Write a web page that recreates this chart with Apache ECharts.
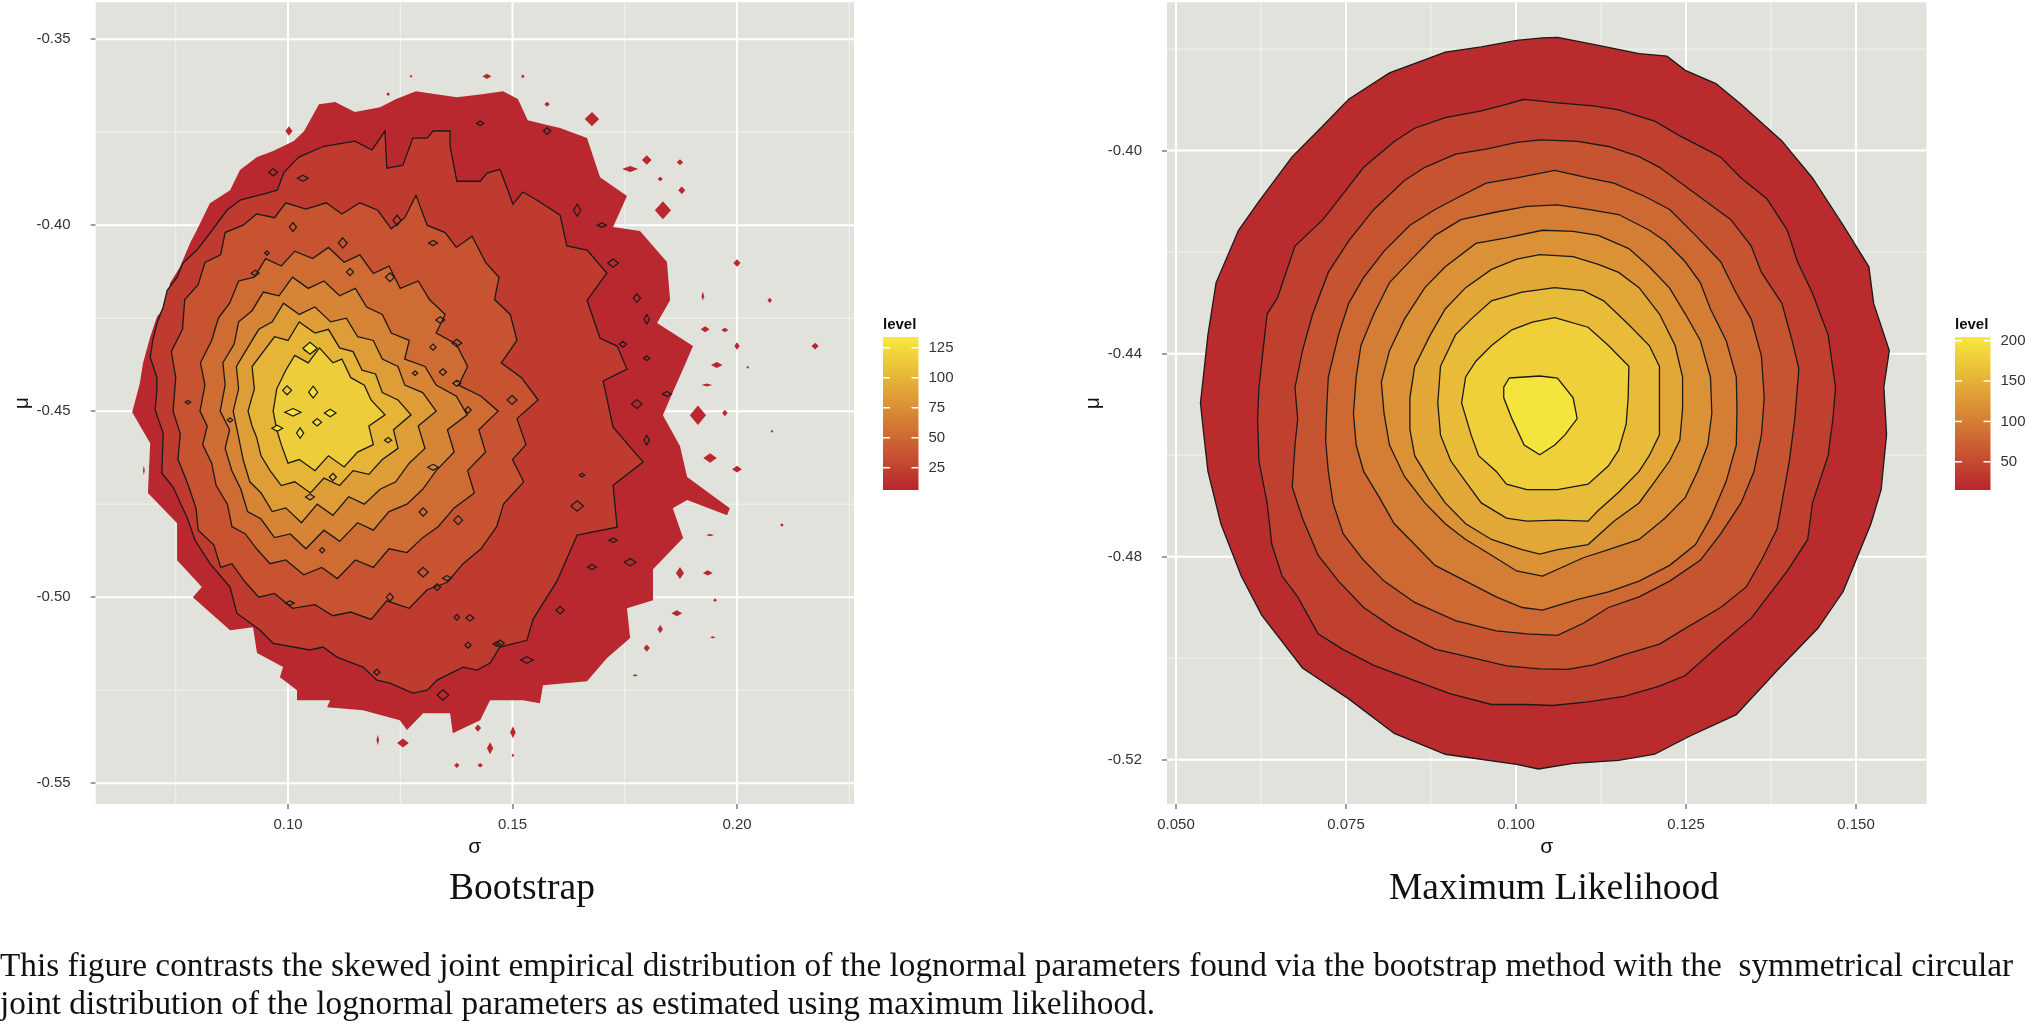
<!DOCTYPE html>
<html>
<head>
<meta charset="utf-8">
<script src="https://cdn.jsdelivr.net/npm/echarts@6/dist/echarts.min.js"></script>
<style>
html, body {margin: 0; background: #fff}
#chart {width: 2029px; height: 1025px}
</style>
</head>
<body>
<div id="chart"></div>
<script>
// all contour vertices are [sigma, mu] in thousandths

// --- Bootstrap panel ---
const bootOuter = [[96.7,-380.1],[101.3,-377.4],[103.6,-374.7],[106.9,-367.5],[110.5,-366.9],[114.9,-369.6],[120.5,-368.3],[124.1,-366.1],[128.5,-364.0],[133.0,-364.8],[137.6,-365.6],[143.2,-364.8],[147.9,-364.0],[151.2,-366.1],[153.4,-371.8],[156.1,-372.6],[160.6,-373.9],[166.6,-376.6],[169.5,-387.1],[175.5,-392.2],[172.4,-400.5],[178.4,-401.6],[184.4,-409.9],[185.1,-420.2],[182.2,-426.3],[190.2,-432.5],[188.0,-438.7],[185.7,-444.9],[183.5,-451.1],[187.3,-459.4],[188.9,-467.7],[198.4,-476.1],[197.8,-478.0],[188.9,-473.9],[185.7,-476.1],[188.0,-484.1],[181.3,-492.5],[181.3,-500.8],[175.5,-503.0],[176.2,-511.0],[171.0,-516.4],[166.6,-522.6],[156.8,-523.7],[156.1,-528.5],[152.3,-527.7],[145.0,-527.7],[142.8,-533.1],[136.7,-536.6],[136.1,-531.2],[130.1,-531.2],[126.5,-535.7],[124.9,-533.1],[116.7,-530.4],[108.7,-529.6],[109.4,-527.7],[102.0,-527.7],[102.0,-525.0],[98.2,-521.5],[98.9,-518.8],[93.1,-515.0],[92.2,-508.1],[87.1,-508.9],[78.8,-500.0],[80.8,-497.3],[75.3,-490.1],[75.3,-480.1],[68.8,-472.0],[69.3,-458.6],[65.3,-450.3],[67.0,-442.5],[67.7,-437.1],[69.3,-430.1],[70.8,-424.7],[73.1,-421.0],[73.7,-415.6],[75.9,-411.3],[78.2,-404.8],[79.7,-401.3],[82.6,-394.1],[87.1,-390.6],[89.3,-385.2],[93.1,-381.7]]

const bootLineA = [[97.6,-390.6],[99.1,-385.8],[102.4,-381.7],[108.0,-378.8],[114.9,-377.4],[118.7,-379.8],[121.6,-374.7],[122.0,-384.7],[125.6,-383.9],[127.8,-376.6],[131.0,-376.6],[132.3,-374.7],[136.1,-374.7],[136.1,-378.8],[137.6,-388.2],[142.8,-388.2],[144.3,-386.0],[147.2,-385.0],[148.8,-390.1],[150.1,-394.4],[152.3,-391.1],[155.5,-393.3],[160.6,-397.3],[162.1,-405.6],[166.6,-406.7],[171.0,-412.9],[166.6,-420.2],[169.5,-430.4],[173.3,-432.5],[175.5,-438.7],[170.2,-441.9],[172.4,-454.3],[179.1,-463.7],[172.4,-469.9],[173.3,-481.2],[164.4,-483.3],[159.9,-495.7],[154.6,-505.9],[153.2,-511.6],[147.2,-513.4],[145.0,-517.7],[142.1,-519.6],[139.0,-518.8],[133.2,-522.3],[131.0,-525.0],[127.8,-525.8],[122.7,-523.1],[119.8,-522.3],[116.7,-518.8],[110.9,-516.1],[107.8,-513.4],[104.9,-514.2],[96.7,-512.4],[93.8,-508.9],[88.6,-504.3],[87.1,-497.3],[82.6,-490.9],[79.3,-484.7],[77.5,-478.5],[74.4,-470.4],[71.9,-466.7],[72.2,-455.9],[70.4,-449.7],[70.8,-444.4],[70.8,-440.9],[69.3,-435.5],[69.9,-430.9],[70.8,-426.4],[72.2,-422.0],[73.1,-417.5],[75.3,-414.0],[76.6,-410.2],[79.7,-406.7],[82.6,-402.2],[86.4,-396.0],[89.3,-393.3],[95.3,-391.4]]

const bootLineB = [[74.4,-450],[75.0,-441],[74.0,-434],[76.5,-428],[77.0,-420],[80.0,-416],[81.5,-410],[85.0,-408],[86.0,-402],[90.0,-400],[93.0,-397],[97.0,-398],[99.5,-394],[104.0,-395.7],[108.5,-394],[112.0,-397],[116.0,-394],[120.0,-396],[123.0,-401],[126.0,-398],[128.5,-392],[131.0,-400],[135.0,-402],[137.5,-406],[141.0,-403],[144.0,-410],[147.0,-414],[146.0,-420],[149.5,-424],[151.0,-431],[147.5,-437],[152.0,-441],[155.7,-447],[151.0,-452],[153.0,-459],[150.0,-463],[152.5,-469],[148.0,-475],[146.5,-481],[143.0,-487],[139.0,-491],[135.5,-496],[131.0,-498],[127.0,-503],[122.0,-501],[118.5,-506],[114.0,-504],[110.0,-505],[106.0,-502],[101.0,-503],[97.0,-499],[93.5,-500],[90.5,-496],[87.5,-491],[85.0,-492],[83.5,-486],[80.0,-482],[79.5,-476],[77.5,-469],[75.5,-463],[76.0,-456]]

const bootLineC = [[80.4,-450],[81.5,-443],[80.5,-437],[83.0,-431],[84.5,-425],[87.0,-421],[89.0,-415],[92.5,-414],[95.0,-409],[98.5,-411],[101.5,-407],[105.5,-409],[109.0,-406],[112.5,-410],[116.0,-408],[119.0,-413],[122.5,-411],[125.0,-417],[129.0,-415],[131.5,-420],[135.0,-424],[133.0,-429],[137.5,-432],[140.0,-438],[138.0,-443],[143.0,-446],[146.8,-450],[142.5,-455],[144.0,-461],[140.0,-466],[141.5,-472],[137.0,-476],[133.5,-481],[130.0,-484],[126.5,-488],[122.5,-487],[119.0,-492],[115.0,-490],[111.0,-495],[107.5,-492],[103.5,-494],[99.5,-490],[96.0,-491],[93.0,-487],[90.5,-483],[87.5,-481],[86.5,-475],[84.0,-470],[83.0,-464],[81.0,-459],[82.0,-454]]

const bootLineD = [[84.9,-450],[86.0,-443],[85.5,-437],[88.0,-432],[89.0,-426],[92.0,-423],[94.5,-418],[98.0,-419],[101.0,-414],[104.5,-417],[108.0,-415],[111.5,-419],[115.0,-417],[117.5,-422],[121.0,-424],[123.0,-429],[127.0,-431],[126.0,-436],[130.5,-438],[133.0,-443],[137.5,-446],[139.9,-451],[135.5,-455],[137.0,-461],[133.0,-466],[130.0,-471],[126.5,-475],[122.5,-477],[119.0,-482],[115.5,-480],[111.5,-485],[108.0,-482],[104.0,-487],[100.5,-483],[97.0,-484],[94.0,-479],[91.0,-477],[89.5,-471],[87.5,-466],[86.0,-460],[87.0,-455]]

const bootLineE = [[87.8,-450],[89.0,-444],[88.5,-438],[91.0,-433],[93.5,-428],[96.5,-426],[99.0,-421],[102.5,-424],[106.0,-422],[109.5,-426],[113.0,-425],[115.5,-430],[119.0,-431],[121.0,-436],[124.5,-438],[126.0,-443],[130.0,-445],[133.0,-450],[129.0,-454],[130.5,-460],[127.0,-464],[124.0,-469],[120.5,-471],[117.0,-475],[113.5,-473],[110.0,-478],[106.5,-475],[103.0,-480],[99.5,-476],[96.5,-477],[94.0,-472],[91.5,-469],[90.0,-463],[89.0,-457]]

const bootLineF = [[91.1,-450],[92.5,-444],[92.0,-438],[94.5,-434],[97.0,-430],[100.0,-431],[102.5,-426],[106.0,-429],[109.0,-428],[111.5,-433],[114.5,-434],[116.5,-439],[119.5,-440],[121.0,-445],[124.5,-447],[127.4,-451],[123.5,-455],[124.5,-460],[121.0,-463],[118.0,-467],[114.5,-466],[111.5,-470],[108.0,-468],[105.0,-472],[101.5,-469],[98.5,-470],[96.0,-466],[94.0,-462],[93.0,-457],[92.0,-454]]

const bootLineG = [[96.7,-450],[97.5,-444],[99.5,-439],[101.5,-435],[104.5,-437],[107.0,-433],[110.0,-437],[112.0,-436],[114.0,-441],[117.0,-443],[118.5,-447],[121.6,-451],[118.0,-454],[119.0,-459],[115.5,-461],[112.5,-465],[109.0,-462],[106.0,-466],[102.5,-463],[100.0,-464],[98.5,-459],[97.5,-455]]

const bootLineLevels = [20, 36, 52, 68, 84, 100, 116]
const bootOuterLevel = 8

// small closed contours: [sigma, mu, half width, half height], thousandths
const bootIslands = [[167.7,-371.5,1.6,1.9],[157.7,-367.5,0.6,0.7],[179.9,-382.5,1.1,1.3],[176.2,-384.9,1.8,0.8],[187.3,-383.1,0.7,0.8],[182.9,-387.6,0.6,0.6],[187.7,-390.6,0.8,1.0],[183.5,-396.0,1.8,2.4],[200.0,-410.2,0.8,1.0],[192.4,-419.1,0.3,1.2],[207.3,-420.2,0.5,0.7],[192.9,-428.0,1.0,0.8],[197.3,-428.2,0.8,0.6],[200.0,-432.5,0.6,1.0],[217.4,-432.5,0.8,0.9],[195.5,-437.6,1.3,0.8],[202.4,-438.2,0.3,0.4],[193.3,-443.0,1.2,0.4],[191.3,-451.1,1.8,2.6],[197.3,-450.5,0.6,0.9],[207.8,-455.4,0.3,0.4],[194.0,-462.6,1.5,1.3],[200.0,-465.6,1.1,0.9],[210.0,-480.6,0.4,0.5],[194.0,-483.3,0.9,0.3],[187.3,-493.5,0.9,1.6],[193.5,-493.5,1.1,0.7],[195.1,-500.8,0.4,0.5],[186.6,-504.3,1.2,0.8],[182.9,-508.6,0.6,1.1],[194.6,-510.8,0.6,0.3],[179.9,-513.7,0.7,1.0],[177.3,-521.0,0.6,0.3],[144.3,-360.0,1.0,0.7],[152.3,-360.0,0.4,0.5],[127.4,-360.0,0.3,0.4],[122.3,-364.8,0.4,0.5],[100.2,-374.7,0.8,1.3],[67.9,-465.9,0.2,1.3],[120.0,-538.4,0.3,1.4],[125.6,-539.2,1.3,1.2],[142.3,-535.2,0.7,1.0],[145.0,-540.6,0.7,1.6],[150.1,-536.3,0.6,1.6],[137.6,-545.2,0.6,0.7],[142.8,-545.2,0.6,0.6],[150.1,-542.5,0.3,0.5]]

const bootLoops = [[96.7,-385.8,1.0,1.0],[103.3,-387.4,1.2,0.8],[101.1,-400.5,0.8,1.2],[95.3,-407.5,0.5,0.6],[92.7,-412.9,0.9,0.8],[112.2,-404.8,1.0,1.4],[113.8,-412.6,0.8,1.0],[122.7,-414.0,1.0,1.2],[124.3,-398.7,0.9,1.4],[132.3,-404.8,1.0,0.7],[104.9,-433.6,1.2,0.9],[99.8,-444.4,1.0,1.2],[87.1,-452.4,0.6,0.6],[77.7,-447.6,0.6,0.5],[133.9,-425.5,1.0,0.9],[137.6,-431.7,1.1,1.0],[132.3,-432.8,0.7,0.8],[134.5,-439.5,0.8,0.9],[128.3,-439.8,0.6,0.6],[137.6,-442.5,0.9,0.8],[149.9,-447.0,1.1,1.2],[140.1,-449.7,0.7,0.9],[122.3,-457.8,0.8,0.7],[132.3,-465.1,1.2,0.8],[104.9,-473.1,1.0,0.8],[130.1,-477.1,0.9,1.1],[137.9,-479.3,1.0,1.2],[107.6,-487.4,0.6,0.7],[110.0,-467.7,0.8,1.0],[100.4,-501.6,1.0,0.6],[122.7,-500.0,0.8,1.1],[130.1,-493.3,1.2,1.3],[135.4,-494.9,1.0,0.7],[133.2,-497.3,0.8,0.9],[137.6,-505.4,0.6,0.8],[140.5,-505.6,0.9,0.9],[147.2,-512.4,1.0,0.9],[140.1,-512.9,0.7,0.8],[134.5,-526.3,1.3,1.4],[119.8,-520.2,0.7,0.8],[142.8,-372.6,0.8,0.6],[157.7,-374.7,0.8,0.9],[164.4,-396.0,0.8,1.6],[169.9,-400.0,1.0,0.6],[172.4,-410.2,1.2,1.1],[177.7,-419.6,0.8,1.2],[179.9,-425.3,0.6,1.3],[174.6,-432.0,0.8,0.8],[179.9,-435.8,0.7,0.6],[184.4,-445.4,1.0,0.7],[177.7,-448.1,1.2,1.2],[179.9,-457.8,0.6,1.3],[165.5,-467.2,0.6,0.5],[164.4,-475.5,1.4,1.4],[172.4,-484.7,0.9,0.6],[176.2,-490.6,1.3,1.0],[167.7,-491.9,1.0,0.7],[160.6,-503.5,0.9,1.0],[146.5,-512.6,0.8,0.6],[153.2,-516.9,1.4,0.9]]

const bootBlobs = [[104.9,-433.1,1.6,1.6],[101.1,-450.3,1.8,1.0],[105.6,-444.9,1.0,1.6],[109.4,-450.5,1.3,1.0],[102.7,-455.9,0.8,1.4],[97.6,-454.6,1.2,0.8],[106.5,-453.0,1.0,1.0]]
const bootBlobLevel = 130

const bootRange = [6.4, 134]
const bootLegendTicks = [25, 50, 75, 100, 125]
const bootXTicks = [0.10, 0.15, 0.20]
const bootYTicks = [-0.55, -0.50, -0.45, -0.40, -0.35]
const bootXMinor = [0.075, 0.125, 0.175, 0.225]
const bootYMinor = [-0.525, -0.475, -0.425, -0.375]
const bootX = [0.05717, 0.22606]
const bootY = [-0.5556, -0.3401]

// --- Maximum likelihood panel ---
const mleLine1 = [[103.9,-377.8],[106.1,-377.7],[111.4,-379.1],[118.1,-380.9],[122.2,-381.4],[124.9,-384.2],[129.4,-386.8],[133.1,-390.9],[139.1,-398.1],[143.6,-405.4],[148.1,-414.7],[151.9,-422.9],[152.6,-430.1],[154.9,-439.4],[154.1,-446.6],[154.5,-455.9],[153.7,-466.8],[152.2,-473.5],[148.1,-486.9],[144.4,-494.1],[138.4,-502.4],[132.4,-511.1],[125.6,-515.3],[120.4,-518.9],[115.1,-520.1],[108.4,-520.7],[103.3,-521.8],[100.1,-520.9],[89.6,-518.9],[82.1,-514.8],[75.4,-508.0],[68.6,-501.9],[62.6,-491.5],[59.6,-483.8],[56.6,-473.5],[54.7,-463.2],[54.0,-454.9],[53.6,-449.7],[54.7,-436.3],[55.9,-426.0],[59.2,-415.7],[62.2,-410.0],[67.1,-401.2],[70.9,-396.1],[75.4,-389.9],[81.4,-384.7],[89.6,-380.6],[94.9,-379.6],[100.1,-378.3]]
const mleLine2 = [[101.2,-389.9],[106.1,-390.6],[111.4,-391.2],[115.1,-392.0],[120.4,-394.2],[124.1,-397.1],[128.6,-400.2],[130.1,-401.3],[133.1,-405.4],[136.9,-409.5],[139.9,-415.7],[141.4,-421.9],[143.6,-428.1],[145.9,-436.3],[147.0,-446.7],[146.6,-452.9],[145.9,-460.1],[143.6,-469.4],[142.9,-476.6],[139.9,-482.8],[134.6,-492.1],[130.1,-497.2],[124.9,-503.4],[121.1,-505.5],[115.9,-507.5],[110.6,-508.6],[105.4,-509.3],[101.6,-509.1],[96.4,-509.1],[90.4,-507.0],[85.1,-504.4],[79.1,-501.4],[74.6,-498.3],[70.9,-495.2],[67.9,-487.9],[65.6,-483.8],[64.1,-477.6],[63.4,-469.4],[62.2,-461.1],[62.0,-452.9],[62.2,-446.7],[63.4,-432.2],[64.9,-429.1],[67.5,-418.8],[71.6,-413.6],[74.6,-408.5],[77.6,-403.3],[82.1,-398.2],[85.1,-395.6],[89.6,-393.5],[94.9,-392.2],[98.6,-390.9]]
const mleLine3 = [[103.6,-397.9],[109.1,-398.2],[113.6,-399.2],[118.1,-401.2],[121.1,-403.3],[126.4,-408.5],[131.6,-413.6],[134.6,-418.8],[136.1,-424.0],[139.1,-430.1],[140.6,-437.4],[141.6,-443.0],[141.0,-452.9],[140.2,-461.1],[139.1,-469.4],[138.4,-474.5],[136.1,-480.7],[133.9,-485.9],[130.1,-490.0],[124.9,-494.1],[121.1,-497.2],[115.9,-499.3],[111.4,-501.3],[107.6,-502.2],[103.5,-502.1],[98.6,-501.5],[94.9,-500.3],[88.1,-498.2],[82.1,-494.1],[77.6,-490.0],[73.9,-484.8],[70.9,-479.7],[68.6,-472.4],[67.1,-466.3],[67.5,-458.0],[67.9,-452.9],[67.5,-446.7],[68.6,-439.4],[70.1,-432.2],[72.4,-424.0],[75.4,-417.8],[79.1,-411.6],[83.6,-405.9],[86.6,-403.3],[91.1,-400.7],[95.6,-399.7],[100.1,-398.4]]
const mleLine4 = [[105.7,-403.9],[110.6,-405.4],[114.4,-406.4],[118.9,-409.0],[122.6,-411.6],[126.4,-416.7],[130.1,-421.9],[132.4,-428.1],[134.6,-433.2],[136.1,-440.5],[136.5,-448.7],[136.1,-456.0],[135.0,-463.2],[133.1,-469.4],[130.1,-475.5],[127.1,-480.7],[122.6,-484.8],[118.1,-487.9],[113.6,-490.0],[109.9,-493.1],[106.1,-495.5],[101.6,-495.2],[97.1,-494.6],[91.1,-492.6],[85.1,-489.0],[80.6,-484.8],[77.6,-480.7],[74.6,-475.5],[73.1,-469.4],[72.4,-463.2],[72.0,-457.0],[72.2,-449.8],[72.4,-444.6],[73.9,-436.3],[75.4,-430.1],[77.6,-425.0],[80.6,-419.8],[84.4,-414.7],[88.1,-411.6],[91.1,-409.5],[95.6,-406.4],[100.1,-405.4]]
const mleLine5 = [[106.1,-410.7],[110.6,-411.6],[115.1,-412.6],[119.6,-415.7],[121.9,-417.8],[124.9,-421.9],[127.1,-426.0],[128.6,-431.2],[130.9,-437.4],[132.4,-444.6],[132.5,-450.8],[132.4,-458.0],[130.9,-465.2],[128.6,-472.4],[126.4,-477.6],[122.6,-481.7],[118.1,-484.8],[113.6,-486.9],[109.1,-488.4],[103.9,-490.5],[100.9,-490.0],[97.1,-487.9],[92.6,-484.8],[88.1,-481.7],[85.1,-477.6],[82.1,-473.5],[79.9,-468.3],[77.6,-463.2],[76.5,-458.0],[76.1,-451.8],[76.5,-444.6],[77.2,-438.4],[79.1,-432.2],[81.4,-426.0],[85.1,-420.8],[88.1,-416.7],[91.9,-413.6],[97.1,-412.1],[101.6,-411.0]]
const mleLine6 = [[103.9,-415.7],[108.4,-415.9],[112.1,-416.7],[116.6,-419.3],[119.6,-422.9],[122.6,-427.1],[124.9,-432.2],[127.1,-437.4],[128.6,-444.6],[128.8,-451.8],[128.2,-458.0],[126.7,-463.2],[124.9,-468.3],[121.9,-472.4],[118.1,-476.6],[113.6,-478.6],[109.9,-480.2],[103.9,-483.8],[100.1,-482.8],[96.4,-479.7],[92.6,-476.6],[89.6,-473.5],[86.6,-469.4],[83.6,-464.2],[81.4,-458.0],[80.6,-451.8],[80.2,-445.6],[81.4,-439.4],[83.6,-433.2],[86.6,-427.0],[89.6,-422.9],[94.1,-418.3],[98.6,-417.2]]
const mleLine7 = [[103.5,-420.5],[108.4,-420.9],[112.1,-422.4],[115.1,-424.0],[118.1,-427.0],[121.1,-432.2],[123.4,-438.4],[124.5,-444.6],[124.5,-450.8],[124.1,-457.0],[122.6,-461.1],[120.4,-465.2],[118.1,-469.4],[114.4,-473.0],[110.6,-477.6],[106.1,-478.6],[103.5,-479.5],[100.9,-478.6],[96.4,-476.6],[92.6,-473.5],[89.6,-469.4],[87.4,-465.2],[85.1,-460.1],[84.4,-454.9],[84.4,-448.7],[85.1,-442.5],[87.4,-436.3],[89.6,-431.2],[92.6,-427.0],[96.4,-423.4],[100.1,-421.4]]
const mleLine8 = [[105.7,-427.0],[109.9,-427.6],[112.9,-429.6],[116.6,-434.3],[119.6,-438.4],[121.1,-442.5],[121.1,-448.7],[121.1,-456.0],[119.6,-460.1],[118.1,-463.2],[115.1,-467.3],[112.1,-470.9],[110.6,-473.0],[106.1,-472.8],[101.6,-473.0],[98.6,-472.4],[94.9,-469.4],[92.6,-465.2],[90.4,-461.1],[88.9,-456.0],[88.5,-449.7],[88.9,-442.5],[91.1,-436.3],[93.4,-433.2],[96.4,-429.6],[100.9,-427.9]]
const mleLine9 = [[105.7,-432.9],[110.6,-434.8],[113.6,-438.4],[116.6,-442.5],[116.5,-448.7],[116.2,-453.9],[115.1,-459.0],[113.6,-462.1],[110.6,-465.7],[106.1,-466.8],[101.6,-466.8],[98.6,-465.7],[97.1,-463.2],[94.5,-460.1],[93.4,-456.0],[92.0,-449.7],[92.6,-444.6],[94.1,-441.5],[96.4,-438.4],[99.4,-435.3],[102.4,-433.8]]
const mleLine10 = [[99.0,-444.8],[103.5,-444.4],[106.1,-444.8],[108.4,-448.7],[109.0,-452.8],[107.2,-456.0],[105.7,-458.0],[103.5,-459.9],[101.2,-458.0],[99.4,-452.8],[98.2,-448.7],[98.2,-446.6]]
const mleLevels = [20, 40, 60, 80, 100, 120, 140, 160, 180, 200]

const mleRange = [15, 204.6]
const mleLegendTicks = [50, 100, 150, 200]
const mleXTicks = [0.050, 0.075, 0.100, 0.125, 0.150]
const mleYTicks = [-0.52, -0.48, -0.44, -0.40]
const mleXMinor = [0.0625, 0.0875, 0.1125, 0.1375]
const mleYMinor = [-0.50, -0.46, -0.42, -0.38]
const mleX = [0.04868, 0.16037]
const mleY = [-0.5287, -0.3708]

const LOW = [184, 38, 46]
const HIGH = [247, 233, 60]
const PANEL = "#E2E2DC"
const LABEL = "#333333"
const SANS = "Liberation Sans"
const SERIF = "Liberation Serif"

function k(v) {
	return v / 1000
}

function rgb(c) {
	return `rgb(${c.join(",")})`
}

function levelColor(level, range) {
	let t = Math.max(0, Math.min(1, (level - range[0]) / (range[1] - range[0])))
	return rgb(LOW.map((v, i) => Math.round(v + (HIGH[i] - v) * t)))
}

function gridLines(gi, xs, ys, xr, yr, width, color) {
	let lines = xs.map(v => [v, yr[0], v, yr[1]]).concat(ys.map(v => [xr[0], v, xr[1], v]))
	return {
		type: "custom", xAxisIndex: gi, yAxisIndex: gi, silent: true,
		data: lines,
		renderItem: (params, api) => {
			let a = api.coord([api.value(0), api.value(1)])
			let b = api.coord([api.value(2), api.value(3)])
			return {type: "line", shape: {x1: a[0], y1: a[1], x2: b[0], y2: b[1]}, style: {stroke: color, lineWidth: width}}
		}
	}
}

function polygons(gi, shapes, fills, stroke) {
	return {
		type: "custom", xAxisIndex: gi, yAxisIndex: gi, silent: true, clip: true,
		data: shapes.map(s => [k(s[0][0]), k(s[0][1])]),
		renderItem: (params, api) => {
			let pts = shapes[params.dataIndex].map(p => api.coord([k(p[0]), k(p[1])]))
			let style = {fill: fills[params.dataIndex]}
			if (stroke) {
				style.stroke = stroke
				style.lineWidth = 1.3
			}
			return {type: "polygon", shape: {points: pts}, style: style}
		}
	}
}

function diamonds(gi, items, fill, stroke) {
	return {
		type: "custom", xAxisIndex: gi, yAxisIndex: gi, silent: true, clip: true,
		data: items.map(d => [k(d[0]), k(d[1]), k(d[2]), k(d[3])]),
		renderItem: (params, api) => {
			let x = api.value(0), y = api.value(1), w = api.value(2), h = api.value(3)
			let pts = [[x, y + h], [x + w, y], [x, y - h], [x - w, y]].map(p => api.coord(p))
			let style = {fill: fill}
			if (stroke) {
				style.stroke = stroke
				style.lineWidth = 1.2
			}
			return {type: "polygon", shape: {points: pts}, style: style}
		}
	}
}

function colorBar(gi, range, ticks) {
	return {
		type: "custom", xAxisIndex: gi, yAxisIndex: gi, silent: true,
		data: [[0, range[0]]],
		renderItem: (params, api) => {
			let tl = api.coord([0, range[1]])
			let br = api.coord([1, range[0]])
			let children = [{
				type: "rect",
				shape: {x: tl[0], y: tl[1], width: br[0] - tl[0], height: br[1] - tl[1]},
				style: {fill: new echarts.graphic.LinearGradient(0, 0, 0, 1, [
					{offset: 0, color: rgb(HIGH)}, {offset: 1, color: rgb(LOW)}
				])}
			}]
			ticks.forEach(t => {
				let y = api.coord([0, t])[1]
				children.push({type: "line", shape: {x1: tl[0], y1: y, x2: tl[0] + 7, y2: y}, style: {stroke: "#fff", lineWidth: 1.5}})
				children.push({type: "line", shape: {x1: br[0] - 7, y1: y, x2: br[0], y2: y}, style: {stroke: "#fff", lineWidth: 1.5}})
			})
			return {type: "group", children: children}
		}
	}
}

function valueX(gi, range, ticks, digits) {
	return {
		gridIndex: gi, type: "value", min: range[0], max: range[1],
		axisLine: {show: false, onZero: false},
		axisTick: {show: true, length: 5, customValues: ticks, lineStyle: {color: "#7f7f7f", width: 1.5}},
		axisLabel: {customValues: ticks, margin: 13, fontFamily: SANS, fontSize: 15, color: LABEL, formatter: v => v.toFixed(digits)},
		splitLine: {show: false},
		name: "σ", nameLocation: "middle", nameGap: 30,
		nameTextStyle: {fontFamily: SANS, fontSize: 21, color: "#111"}
	}
}

function valueY(gi, range, ticks) {
	return {
		gridIndex: gi, type: "value", min: range[0], max: range[1],
		axisLine: {show: false, onZero: false},
		axisTick: {show: true, length: 5, customValues: ticks, lineStyle: {color: "#7f7f7f", width: 1.5}},
		axisLabel: {customValues: ticks, margin: 25, fontFamily: SANS, fontSize: 15, color: LABEL, formatter: v => v.toFixed(2)},
		splitLine: {show: false},
		name: "μ", nameLocation: "middle", nameGap: 62, nameRotate: 90,
		nameTextStyle: {fontFamily: SANS, fontSize: 21, color: "#111"}
	}
}

function barY(gi, range, ticks) {
	return {
		gridIndex: gi, type: "value", min: range[0], max: range[1], position: "right",
		axisLine: {show: false}, axisTick: {show: false}, splitLine: {show: false},
		axisLabel: {customValues: ticks, margin: 10, fontFamily: SANS, fontSize: 15, color: LABEL}
	}
}

function text(x, y, str, font, align) {
	return {
		type: "text", x: x, y: y, silent: true,
		style: {text: str, font: font, fill: "#111", textAlign: align, align: align, textVerticalAlign: "middle", verticalAlign: "middle"}
	}
}

let chart = echarts.init(document.getElementById("chart"))

let bootLines = [bootLineA, bootLineB, bootLineC, bootLineD, bootLineE, bootLineF, bootLineG]
let mleLines = [mleLine1, mleLine2, mleLine3, mleLine4, mleLine5, mleLine6, mleLine7, mleLine8, mleLine9, mleLine10]
let outerRed = levelColor(bootOuterLevel, bootRange)

let option = {
	animation: false,
	grid: [
		{left: 95.7, top: 2.3, width: 758.3, height: 801.7, show: true, backgroundColor: PANEL, borderWidth: 0},
		{left: 1167, top: 2.3, width: 759.5, height: 801.7, show: true, backgroundColor: PANEL, borderWidth: 0},
		{left: 883, top: 337, width: 35.5, height: 153},
		{left: 1955, top: 337, width: 35.5, height: 153}
	],
	xAxis: [
		valueX(0, bootX, bootXTicks, 2),
		valueX(1, mleX, mleXTicks, 3),
		{gridIndex: 2, type: "value", min: 0, max: 1, show: false},
		{gridIndex: 3, type: "value", min: 0, max: 1, show: false}
	],
	yAxis: [
		valueY(0, bootY, bootYTicks),
		valueY(1, mleY, mleYTicks),
		barY(2, bootRange, bootLegendTicks),
		barY(3, mleRange, mleLegendTicks)
	],
	series: [
		gridLines(0, bootXMinor, bootYMinor, bootX, bootY, 1, "#F3F3EF"),
		gridLines(0, bootXTicks, bootYTicks, bootX, bootY, 2, "#FFFFFF"),
		polygons(0, [bootOuter], [outerRed]),
		diamonds(0, bootIslands, outerRed),
		polygons(0, bootLines, bootLineLevels.map(l => levelColor(l, bootRange)), "#1a1a1a"),
		diamonds(0, bootLoops, "none", "#1a1a1a"),
		diamonds(0, bootBlobs, levelColor(bootBlobLevel, bootRange), "#1a1a1a"),
		gridLines(1, mleXMinor, mleYMinor, mleX, mleY, 1, "#F3F3EF"),
		gridLines(1, mleXTicks, mleYTicks, mleX, mleY, 2, "#FFFFFF"),
		polygons(1, mleLines, mleLevels.map(l => levelColor(l, mleRange)), "#1a1a1a"),
		colorBar(2, bootRange, bootLegendTicks),
		colorBar(3, mleRange, mleLegendTicks)
	],
	graphic: [
		text(883, 325, "level", `bold 15px "${SANS}"`, "left"),
		text(1955, 325, "level", `bold 15px "${SANS}"`, "left"),
		text(522, 889, "Bootstrap", `37.5px "${SERIF}"`, "center"),
		text(1554, 889, "Maximum Likelihood", `37.5px "${SERIF}"`, "center"),
		text(0, 967, "This figure contrasts the skewed joint empirical distribution of the lognormal parameters found via the bootstrap method with the  symmetrical circular", `33.3px "${SERIF}"`, "left"),
		text(0, 1005, "joint distribution of the lognormal parameters as estimated using maximum likelihood.", `33.3px "${SERIF}"`, "left")
	]
}
chart.setOption(option)
window.onresize = chart.resize
</script>
</body>
</html>
